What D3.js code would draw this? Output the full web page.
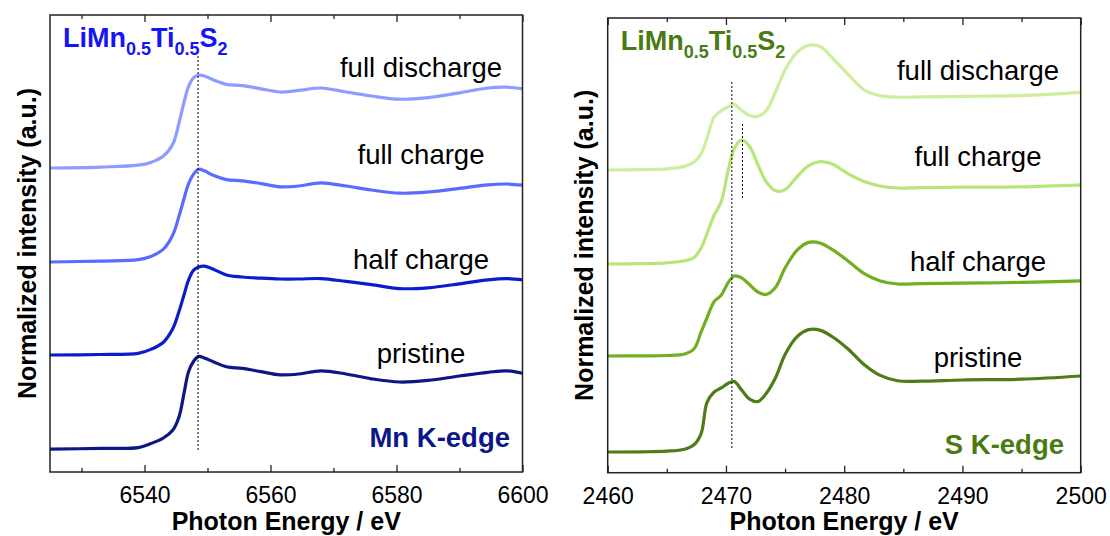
<!DOCTYPE html>
<html>
<head>
<meta charset="utf-8">
<script src="https://cdn.jsdelivr.net/npm/d3@7"></script>
<style>
body { margin: 0; background: #fff; }
svg text { font-family: "Liberation Sans", Arial, sans-serif; }
</style>
</head>
<body>
<svg id="chart" width="1110" height="536"></svg>
<script>
// Mn K-edge (left), normalized absorption before stacking offset
var mnEnergy = [6525, 6533, 6539, 6541, 6543, 6544.5, 6545.5, 6546.3, 6547, 6547.8, 6548.6, 6549.5, 6551, 6553,
    6555.5, 6558.5, 6561.5, 6564.5, 6568, 6572, 6576, 6580.5, 6585, 6590, 6594.5, 6597.5, 6600];
var mnPristine = [0.01, 0.02, 0.03, 0.08, 0.15, 0.25, 0.42, 0.72, 0.98, 1.11, 1.17, 1.15, 1.10, 1.04,
    1.02, 0.98, 0.94, 0.95, 0.99, 0.95, 0.89, 0.85, 0.87, 0.925, 0.97, 0.99, 0.96];
var mnHalfCharge = [0, 0.006, 0.02, 0.07, 0.16, 0.33, 0.55, 0.76, 0.94, 1.06, 1.10, 1.11, 1.07, 1.00,
    0.975, 0.96, 0.95, 0.95, 0.955, 0.92, 0.88, 0.83, 0.84, 0.89, 0.94, 0.955, 0.94];
var mnFullCharge = [0, 0.012, 0.03, 0.07, 0.16, 0.34, 0.58, 0.80, 0.98, 1.10, 1.16, 1.14, 1.08, 1.03,
    1.015, 0.98, 0.94, 0.95, 0.99, 0.95, 0.90, 0.86, 0.875, 0.92, 0.965, 0.975, 0.96];
var mnFullDischarge = [0, 0.012, 0.035, 0.07, 0.15, 0.30, 0.57, 0.83, 1.02, 1.13, 1.16, 1.15, 1.10, 1.045,
    1.03, 0.99, 0.95, 0.97, 1.00, 0.95, 0.90, 0.86, 0.88, 0.94, 1.00, 1.01, 0.99];
var mnOffsets = [0, 1.1875, 2.35, 3.525];
var mnTicks = [6540, 6560, 6580, 6600];
var mnMinorTicks = [6530, 6550, 6570, 6590];
var mnMarker = 6548.5;

// S K-edge (right)
var sEnergy = [2460, 2463, 2465, 2466.5, 2467.3, 2467.9, 2468.4, 2469, 2469.6, 2470.2, 2470.7, 2471.3, 2472, 2472.7,
    2473.4, 2474.2, 2475, 2476, 2477, 2478, 2479, 2480.3, 2481.7, 2483, 2484.5, 2486.5, 2490, 2495, 2500];
var sPristine = [0, 0.002, 0.01, 0.035, 0.09, 0.23, 0.62, 0.75, 0.80, 0.86, 0.88, 0.78, 0.66, 0.63,
    0.73, 0.93, 1.22, 1.44, 1.53, 1.52, 1.44, 1.29, 1.09, 0.96, 0.89, 0.885, 0.90, 0.91, 0.95];
var sHalfCharge = [0, 0.002, 0.006, 0.025, 0.09, 0.30, 0.48, 0.68, 0.76, 0.92, 1.00, 0.98, 0.89, 0.80,
    0.77, 0.86, 1.10, 1.32, 1.42, 1.41, 1.33, 1.19, 1.03, 0.94, 0.90, 0.905, 0.91, 0.92, 0.94];
var sFullCharge = [0, 0.005, 0.015, 0.04, 0.08, 0.20, 0.38, 0.61, 0.78, 1.18, 1.44, 1.55, 1.47, 1.24,
    1.03, 0.915, 0.93, 1.09, 1.23, 1.28, 1.25, 1.13, 1.03, 0.975, 0.95, 0.955, 0.96, 0.965, 0.99];
var sFullDischarge = [0, 0.005, 0.015, 0.045, 0.10, 0.20, 0.40, 0.66, 0.74, 0.79, 0.82, 0.75, 0.68, 0.67,
    0.74, 0.98, 1.25, 1.47, 1.56, 1.54, 1.40, 1.20, 1.00, 0.93, 0.91, 0.915, 0.92, 0.93, 0.97];
var sOffsets = [0, 1.2, 2.35, 3.525];
var sTicks = [2460, 2470, 2480, 2490, 2500];
var sMinorTicks = [2465, 2475, 2485, 2495];
var sMarker = 2470.5;
var sMarker2 = 2471.4;

var stateNames = ['pristine', 'half charge', 'full charge', 'full discharge'];

var svg = d3.select('#chart');

function drawPanel(p) {
    var g = svg.append('g');
    var x = d3.scaleLinear().domain(p.xDomain).range([p.left, p.right]);
    var y = d3.scaleLinear().domain(p.yDomain).range([p.bottom, p.top]);

    var line = d3.line()
        .x(function (d) { return x(d[0]); })
        .y(function (d) { return y(d[1]); })
        .curve(d3.curveCatmullRom.alpha(0.5));

    p.series.forEach(function (vals, i) {
        var pts = p.energy.map(function (e, j) { return [e, vals[j] + p.offsets[i]]; });
        g.append('path')
            .datum(pts)
            .attr('d', line)
            .attr('fill', 'none')
            .attr('stroke', p.colors[i])
            .attr('stroke-width', 3.2)
            .attr('stroke-linejoin', 'round');
    });

    // dotted guide lines
    p.markers.forEach(function (m) {
        g.append('line')
            .attr('x1', x(m[0])).attr('x2', x(m[0]))
            .attr('y1', y(m[1])).attr('y2', y(m[2]))
            .attr('stroke', '#000')
            .attr('stroke-width', 1)
            .attr('stroke-dasharray', '2,2');
    });

    // axes, ticks inside
    var bottom = g.append('g').attr('transform', 'translate(0,' + p.bottom + ')')
        .call(d3.axisBottom(x).tickValues(p.ticks).tickSizeInner(-7).tickSizeOuter(0)
            .tickPadding(15).tickFormat(d3.format('d')));
    bottom.append('g')
        .call(d3.axisBottom(x).tickValues(p.minor).tickSizeInner(-4).tickSizeOuter(0).tickFormat(''));
    var top = g.append('g').attr('transform', 'translate(0,' + p.top + ')')
        .call(d3.axisTop(x).tickValues(p.ticks).tickSizeInner(-7).tickSizeOuter(0).tickFormat(''));
    top.append('g')
        .call(d3.axisTop(x).tickValues(p.minor).tickSizeInner(-4).tickSizeOuter(0).tickFormat(''));
    g.selectAll('.domain').remove();
    g.selectAll('.tick line').attr('stroke', '#222').attr('stroke-width', 1.3);
    g.selectAll('.tick text').attr('font-size', 23).attr('fill', '#000')
        .attr('font-family', '"Liberation Sans", Arial, sans-serif');

    g.append('rect')
        .attr('x', p.left).attr('y', p.top)
        .attr('width', p.right - p.left).attr('height', p.bottom - p.top)
        .attr('fill', 'none').attr('stroke', '#222').attr('stroke-width', 1.5);

    // state labels
    p.labelY.forEach(function (ly, i) {
        g.append('text')
            .attr('x', p.labelX).attr('y', ly)
            .attr('text-anchor', 'middle')
            .attr('font-size', 27.5)
            .attr('fill', '#000')
            .text(stateNames[i]);
    });

    // compound name
    var t = g.append('text')
        .attr('x', p.left + 13).attr('y', p.top + 32)
        .attr('font-size', 27).attr('font-weight', 'bold')
        .attr('fill', p.titleColor);
    t.append('tspan').text('LiMn');
    t.append('tspan').attr('dy', 8).attr('font-size', 18).text('0.5');
    t.append('tspan').attr('dy', -8).text('Ti');
    t.append('tspan').attr('dy', 8).attr('font-size', 18).text('0.5');
    t.append('tspan').attr('dy', -8).text('S');
    t.append('tspan').attr('dy', 8).attr('font-size', 18).text('2');

    g.append('text')
        .attr('x', p.edgeX).attr('y', p.edgeY)
        .attr('text-anchor', 'end')
        .attr('font-size', 27.5).attr('font-weight', 'bold')
        .attr('fill', p.edgeColor)
        .text(p.edgeText);

    g.append('text')
        .attr('x', (p.left + p.right) / 2).attr('y', 530)
        .attr('text-anchor', 'middle')
        .attr('font-size', 25).attr('font-weight', 'bold')
        .text('Photon Energy / eV');

    g.append('text')
        .attr('transform', 'translate(' + p.yTitleX + ',' + ((p.top + p.bottom) / 2) + ') rotate(-90)')
        .attr('text-anchor', 'middle')
        .attr('font-size', 25).attr('font-weight', 'bold')
        .text('Normalized intensity (a.u.)');
}

drawPanel({
    left: 50, right: 522.5, top: 15, bottom: 472,
    xDomain: [6525, 6600], yDomain: [-0.275, 5.4375],
    energy: mnEnergy,
    series: [mnPristine, mnHalfCharge, mnFullCharge, mnFullDischarge],
    offsets: mnOffsets,
    colors: ['#0b1786', '#0a1dcc', '#5b6bff', '#8d9cff'],
    ticks: mnTicks, minor: mnMinorTicks,
    markers: [[mnMarker, 0, 4.95]],
    labelX: 421, labelY: [363, 269, 164, 77],
    titleColor: '#1414f5',
    edgeText: 'Mn K-edge', edgeColor: '#0b1786', edgeX: 510, edgeY: 447,
    yTitleX: 36
});

drawPanel({
    left: 607.7, right: 1080.7, top: 18, bottom: 472.7,
    xDomain: [2460, 2500], yDomain: [-0.259, 5.425],
    energy: sEnergy,
    series: [sPristine, sHalfCharge, sFullCharge, sFullDischarge],
    offsets: sOffsets,
    colors: ['#4e7c17', '#73ad20', '#b6e678', '#cdee9f'],
    ticks: sTicks, minor: sMinorTicks,
    markers: [[sMarker, 0.05, 4.65], [sMarker2, 3.175, 4.1125]],
    labelX: 978, labelY: [367, 271, 166, 80],
    titleColor: '#4a7a12',
    edgeText: 'S K-edge', edgeColor: '#4a7a12', edgeX: 1064, edgeY: 454,
    yTitleX: 593
});
</script>
</body>
</html>
